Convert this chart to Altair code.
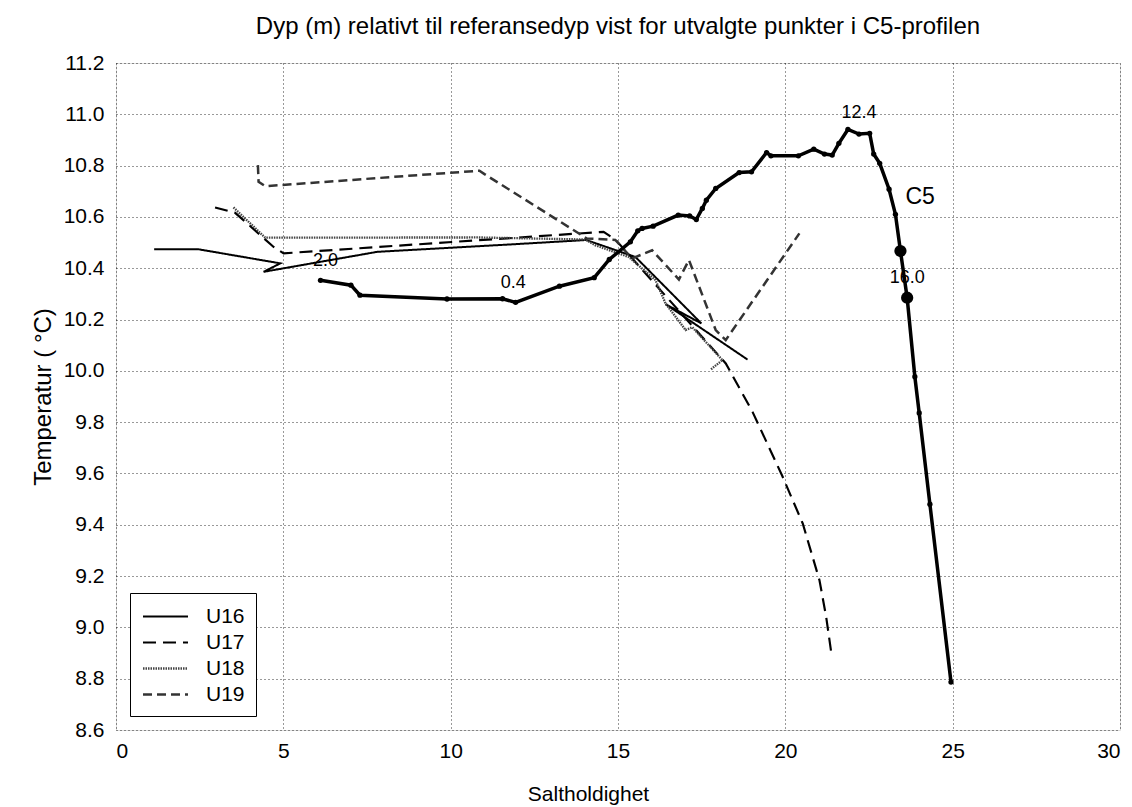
import altair as alt
import pandas as pd

# ---- C5 profile (thick line with dots) ----
c5_sal = [6.11, 7.02, 7.29, 9.89, 11.55, 11.94, 13.25, 14.29, 14.74, 15.37, 15.59, 15.72,
          16.05, 16.80, 17.14, 17.34, 17.52, 17.64, 17.92, 18.62, 18.99, 19.44, 19.57, 20.39,
          20.85, 21.17, 21.40, 21.60, 21.87, 22.20, 22.52, 22.64, 22.82, 23.10, 23.29, 23.44,
          23.64, 23.87, 24.00, 24.32, 24.95]
c5_temp = [10.353, 10.334, 10.295, 10.280, 10.281, 10.267, 10.330, 10.363, 10.434, 10.503,
           10.546, 10.555, 10.564, 10.607, 10.604, 10.590, 10.633, 10.665, 10.711, 10.773,
           10.776, 10.851, 10.838, 10.838, 10.864, 10.845, 10.841, 10.887, 10.941, 10.923,
           10.926, 10.845, 10.809, 10.708, 10.610, 10.467, 10.285, 9.977, 9.836, 9.480, 8.787]
c5_big_sal = [23.44, 23.64]
c5_big_temp = [10.467, 10.285]

# depth labels
lbl_text = ["2.0", "0.4", "12.4", "16.0"]
lbl_sal = [6.26, 11.87, 22.2, 23.64]
lbl_temp = [10.43, 10.342, 11.005, 10.361]
c5_lbl_sal = [24.03]
c5_lbl_temp = [10.677]

# ---- U series ----
u16_sal = [1.14, 2.46, 4.91, 4.41, 7.81, 11.82, 14.05, 15.52, 17.49, 16.42, 18.87]
u16_temp = [10.474, 10.474, 10.419, 10.386, 10.464, 10.493, 10.510, 10.444, 10.185, 10.260, 10.044]

u17_sal = [2.96, 3.56, 4.71, 5.01, 14.57, 14.92, 18.22, 19.02, 19.92, 20.52, 21.02, 21.22, 21.37]
u17_temp = [10.637, 10.616, 10.483, 10.458, 10.542, 10.512, 10.029, 9.840, 9.587, 9.405, 9.184, 9.041, 8.904]

u18_sal = [3.51, 4.46, 10.82, 14.02, 14.31, 15.32, 16.12, 16.42, 17.02, 17.22, 18.12, 17.77]
u18_temp = [10.637, 10.519, 10.520, 10.512, 10.490, 10.444, 10.354, 10.263, 10.159, 10.170, 10.042, 10.005]

u19_sal = [4.24, 4.26, 4.46, 10.86, 11.01, 14.07, 14.92, 15.42, 16.02, 16.82, 17.12, 17.92, 18.22, 20.42]
u19_temp = [10.802, 10.737, 10.720, 10.780, 10.767, 10.516, 10.510, 10.438, 10.470, 10.356, 10.432, 10.159, 10.120, 10.536]

series_names = ["U16", "U17", "U18", "U19"]
series_sal = [u16_sal, u17_sal, u18_sal, u19_sal]
series_temp = [u16_temp, u17_temp, u18_temp, u19_temp]

x_ticks = [0, 5, 10, 15, 20, 25, 30]
y_ticks = [8.6, 8.8, 9.0, 9.2, 9.4, 9.6, 9.8, 10.0, 10.2, 10.4, 10.6, 10.8, 11.0, 11.2]

rows = []
for name, ss, tt in zip(series_names, series_sal, series_temp):
    for i, (a, b) in enumerate(zip(ss, tt)):
        rows.append({"serie": name, "sal": a, "temp": b, "i": i})
df_u = pd.DataFrame(rows)

df_c5 = pd.DataFrame({"sal": c5_sal, "temp": c5_temp, "i": list(range(len(c5_sal)))})
df_big = pd.DataFrame({"sal": c5_big_sal, "temp": c5_big_temp})
df_lbl = pd.DataFrame({"sal": lbl_sal, "temp": lbl_temp, "txt": lbl_text})
df_c5lbl = pd.DataFrame({"sal": c5_lbl_sal, "temp": c5_lbl_temp, "txt": ["C5"]})

FONT = "Liberation Sans"

x_scale = alt.Scale(domain=[0, 30], nice=False, zero=False)
y_scale = alt.Scale(domain=[8.6, 11.2], nice=False, zero=False)

x_axis = alt.Axis(values=x_ticks, title="Saltholdighet", grid=True, gridDash=[1, 3],
                  gridColor="#000", gridOpacity=0.8, labelFontSize=21, titleFontSize=21,
                  titleFontWeight="normal", tickSize=0, labelPadding=10, domain=False,
                  titlePadding=22, titleX=472, labelColor="#000", titleColor="#000",
                  labelFont=FONT, titleFont=FONT)
y_axis = alt.Axis(values=y_ticks, format=".1f", title="Temperatur ( °C)", grid=True,
                  gridDash=[1, 3], gridColor="#000", gridOpacity=0.8, labelFontSize=21,
                  titleFontSize=24, titleFontWeight="normal", tickSize=0, labelPadding=12,
                  domain=False, titlePadding=8, labelColor="#000", titleColor="#000",
                  labelFont=FONT, titleFont=FONT)

X = alt.X("sal:Q", scale=x_scale, axis=x_axis)
Y = alt.Y("temp:Q", scale=y_scale, axis=y_axis)

legend = alt.Legend(title=None, orient="bottom-left", offset=14, padding=11,
                    fillColor="white", strokeColor="black", labelFontSize=21,
                    labelFont=FONT, labelColor="#000", symbolType="M-2,0H2",
                    symbolSize=506, symbolOffset=12, rowPadding=3, labelOffset=28)

u_lines = alt.Chart(df_u).mark_line(clip=True).encode(
    x=X, y=Y, order="i:Q",
    color=alt.Color("serie:N", scale=alt.Scale(domain=series_names,
                    range=["#000000", "#000000", "#444444", "#333333"]), legend=legend),
    strokeDash=alt.StrokeDash("serie:N", scale=alt.Scale(domain=series_names,
                    range=[[1, 0], [13, 7], [1.5, 1], [9, 5]]), legend=legend),
    strokeWidth=alt.StrokeWidth("serie:N", scale=alt.Scale(domain=series_names,
                    range=[2, 2.5, 2.5, 0.9]), legend=legend),
)

c5_line = alt.Chart(df_c5).mark_line(color="black", strokeWidth=3.5).encode(
    x="sal:Q", y="temp:Q", order="i:Q")
c5_pts = alt.Chart(df_c5).mark_point(filled=True, color="black", size=28, opacity=1).encode(
    x="sal:Q", y="temp:Q")
c5_big = alt.Chart(df_big).mark_point(filled=True, color="black", size=150, opacity=1).encode(
    x="sal:Q", y="temp:Q")
labels = alt.Chart(df_lbl).mark_text(fontSize=18, font=FONT, color="black").encode(
    x="sal:Q", y="temp:Q", text="txt:N")
c5_label = alt.Chart(df_c5lbl).mark_text(fontSize=23, font=FONT, color="black").encode(
    x="sal:Q", y="temp:Q", text="txt:N")

chart = alt.layer(u_lines, c5_line, c5_pts, c5_big, labels, c5_label).properties(
    width=1004, height=667, autosize="none",
    padding={"left": 108, "top": 55, "right": 4, "bottom": 75},
    title=alt.Title("Dyp (m) relativt til referansedyp vist for utvalgte punkter i C5-profilen",
                    fontSize=24, fontWeight="normal", font=FONT, offset=13, anchor="middle",
                    color="#000"),
).configure_view(stroke="black", strokeWidth=1.5).configure(font=FONT)

chart.save("out.html", embed_options={"renderer": "svg", "actions": False})
